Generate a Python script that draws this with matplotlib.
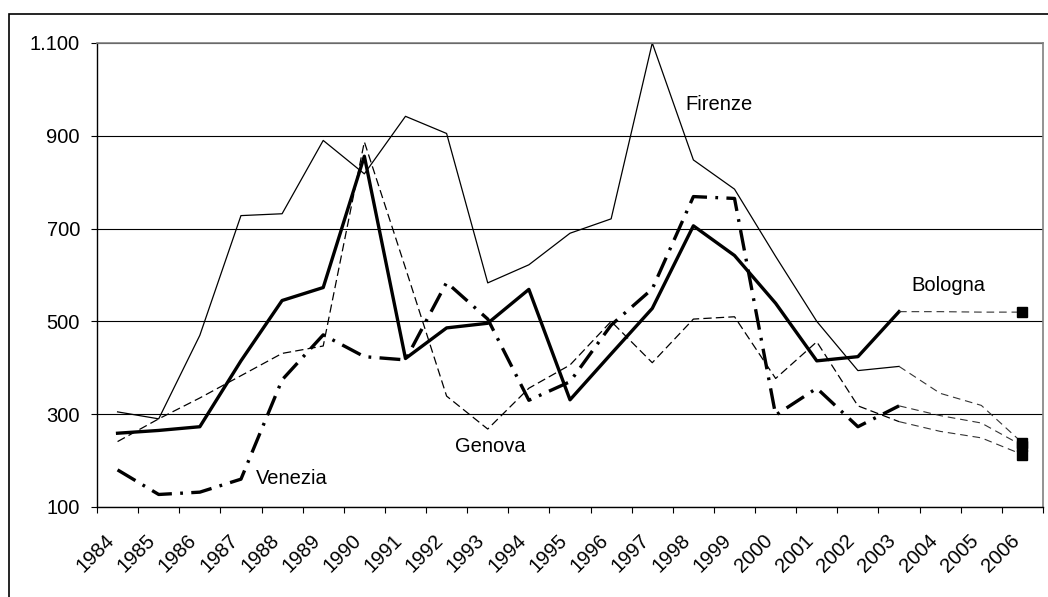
import matplotlib
matplotlib.use('Agg')
import matplotlib.pyplot as plt
import matplotlib.transforms as mtransforms
from matplotlib.patches import Rectangle

# dati (1984-2003)
anni = [str(a) for a in range(1984, 2007)]
firenze = [305, 290, 470, 728, 732, 890, 818, 942, 905, 583,
           622, 690, 721, 1100, 848, 785, 640, 500, 394, 403]
bologna = [259, 265, 273, 415, 545, 573, 856, 420, 486, 496,
           569, 331, 430, 528, 706, 642, 539, 415, 424, 521]
genova = [241, 290, 335, 383, 431, 447, 887, 615, 339, 268,
          356, 406, 500, 411, 505, 510, 377, 456, 318, 284]
venezia = [180, 127, 132, 160, 374, 471, 424, 417, 584, 505,
           330, 370, 492, 570, 769, 765, 298, 356, 273, 318]

# proiezioni 2003-2006
anni_proiezione = ['2003', '2004', '2005', '2006']
firenze_proj = [403, 345, 319, 238]
bologna_proj = [521, 521, 520, 520]
genova_proj = [284, 263, 249, 213]
venezia_proj = [318, 297, 281, 232]

valori_y = [100, 300, 500, 700, 900, 1100]
etichette_y = ['100', '300', '500', '700', '900', '1.100']

plt.rcParams['font.family'] = ['Liberation Sans', 'DejaVu Sans']
plt.rcParams['lines.scale_dashes'] = False

fig = plt.figure(figsize=(10.48, 5.97), dpi=100)
ax = fig.add_axes([97 / 1048, 90 / 597, 946 / 1048, 464 / 597])

x = list(range(len(anni)))
xs = x[:len(firenze)]

ax.plot(xs, firenze, color='black', lw=0.9)
ax.plot(xs, bologna, color='black', lw=2.4)
ax.plot(xs, genova, color='black', lw=0.9, linestyle=(0, (6, 3)))
ax.plot(xs, venezia, color='black', lw=2.4, linestyle=(0, (15, 6, 2, 6)))

xp = [anni.index(a) for a in anni_proiezione]
for serie in (firenze_proj, bologna_proj, genova_proj, venezia_proj):
    ax.plot(xp, serie, color='#333333', lw=0.8, linestyle=(0, (5.5, 3.5)))
    ax.plot(xp[-1], serie[-1], marker='s', ms=6.5, color='black', linestyle='none')

# nomi delle città
ax.text(13.80, 956, 'Firenze', fontsize=14.5, va='baseline')
ax.text(19.29, 566, 'Bologna', fontsize=14.5, va='baseline')
ax.text(8.20, 219, 'Genova', fontsize=14.5, va='baseline')
ax.text(3.37, 150, 'Venezia', fontsize=14.5, va='baseline')

ax.set_xlim(-0.5, len(anni) - 0.5)
ax.set_ylim(100, 1100)
ax.set_yticks(valori_y, etichette_y)
ax.set_xticks([i - 0.5 for i in range(len(anni) + 1)])
ax.set_xticks(x, anni, minor=True)
ax.tick_params(axis='y', length=4.3, pad=8, labelsize=14.5, color='black')
ax.tick_params(axis='x', which='major', length=4.3, labelbottom=False)
ax.tick_params(axis='x', which='minor', length=0, pad=22, labelsize=14.5)
spostamento = mtransforms.ScaledTranslation(-6 / 100, 0, fig.dpi_scale_trans)
for lab in ax.get_xticklabels(minor=True):
    lab.set_rotation(45)
    lab.set_ha('right')
    lab.set_va('center')
    lab.set_rotation_mode('anchor')
    lab.set_transform(lab.get_transform() + spostamento)

ax.grid(axis='y', color='black', lw=0.8)
ax.set_axisbelow(True)
for lato in ('top', 'right'):
    ax.spines[lato].set_color('#808080')
    ax.spines[lato].set_linewidth(1.2)
for lato in ('left', 'bottom'):
    ax.spines[lato].set_linewidth(1.0)

# cornice esterna
cornice = Rectangle((9 / 1048, -1), 2, 1 + (597 - 14) / 597, transform=fig.transFigure,
                    fill=False, edgecolor='black', lw=1.2)
fig.patches.append(cornice)

fig.savefig('out.png', dpi=100)
